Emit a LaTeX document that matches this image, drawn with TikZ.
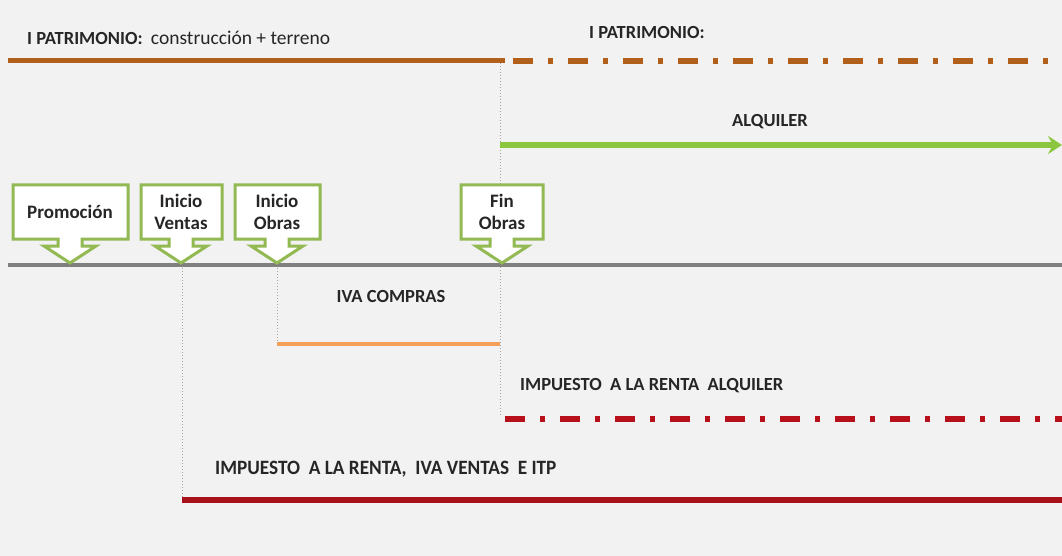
\documentclass[tikz,border=0pt]{standalone}
\usepackage{fontspec}
\setmainfont{Carlito}
\usetikzlibrary{arrows.meta}
\definecolor{bg}{HTML}{F2F2F2}
\definecolor{brownl}{HTML}{B35F1C}
\definecolor{greenl}{HTML}{8CC63F}
\definecolor{greenb}{HTML}{93B952}
\definecolor{grayl}{HTML}{7F7F7F}
\definecolor{orangel}{HTML}{F5A05A}
\definecolor{redd}{HTML}{B8101A}
\definecolor{reds}{HTML}{A8101A}
\definecolor{dotg}{HTML}{A6A6A6}
\newcommand\mycallout[4]{% cx, left, right, name
  \draw[calloutbox] (#2,185) -- (#3,185) -- (#3,239) -- ({#1+12},239) -- ({#1+12},246) -- ({#1+26},246)
    -- (#1,263) -- ({#1-26},246) -- ({#1-12},246) -- ({#1-12},239) -- (#2,239) -- cycle;
  \coordinate (#4) at (#1,212);
}
\begin{document}
\begin{tikzpicture}[x=1pt,y=-1pt,
  lbl/.style={font=\fontsize{18.5}{21}\selectfont\bfseries, inner sep=0pt, text=black!85},
  boxtext/.style={font=\fontsize{19}{22}\selectfont\bfseries, align=center, inner sep=0pt, text=black!85},
  calloutbox/.style={draw=greenb, line width=3pt, fill=white, line join=miter},
  vdot/.style={draw=dotg, line width=1pt, dotted},
  dashdot/.style={line width=5.5pt, dash pattern=on 20pt off 15pt on 5pt off 15pt}]
\fill[bg] (0,0) rectangle (1062,556);
\useasboundingbox (0,0) rectangle (1062,556);

% coordinates
\coordinate (pa) at (8,61);
\coordinate (pb) at (505,61);
\coordinate (pc) at (1062,61);
\coordinate (aa) at (500,145);
\coordinate (ab) at (1062,145);
\coordinate (ta) at (8,265);
\coordinate (tb) at (1062,265);
\coordinate (oa) at (277,344);
\coordinate (ob) at (500,344);
\coordinate (ra) at (505,419);
\coordinate (rb) at (1062,419);
\coordinate (sa) at (182,500);
\coordinate (sb) at (1062,500);
\coordinate (d1) at (500,63);
\coordinate (d1b) at (500,416);
\coordinate (d2) at (182,265);
\coordinate (d3) at (277,265);

% dotted verticals
\draw[vdot] (d1) -- (d1b);
\draw[vdot] (d2) -- (sa);
\draw[vdot] (d3) -- (oa);

% top patrimonio line
\draw[brownl, line width=5pt] (pa) -- (pb);
\draw[brownl, dashdot, dash phase=47pt] (pb) -- (pc);
\node[lbl, anchor=west] (t1) at (27,38) {I PATRIMONIO:\ \ \mdseries\fontsize{19.5}{21}\selectfont construcción + terreno};
\node[lbl, anchor=west] (t2) at (589,33) {I PATRIMONIO:};

% alquiler
\draw[greenl, line width=5.5pt, -{Stealth[length=14pt,width=18pt,inset=5pt]}] (aa) -- (ab);
\node[lbl] (t3) at (770,122) {ALQUILER};

% timeline
\draw[grayl, line width=4pt] (ta) -- (tb);

% callouts
\mycallout{70}{13}{128}{c1}
\node[boxtext] (promo) at (c1) {Promoción};
\mycallout{181}{141}{222}{c2}
\node[boxtext] (ventas) at (c2) {Inicio\\Ventas};
\mycallout{277}{235}{320}{c3}
\node[boxtext] (obras) at (c3) {Inicio\\Obras};
\mycallout{502}{461}{543}{c4}
\node[boxtext] (fin) at (c4) {Fin\\Obras};

% IVA compras
\node[lbl] (t4) at (391,296) {IVA COMPRAS};
\draw[orangel, line width=4.5pt] (oa) -- (ob);

% impuesto alquiler
\node[lbl, anchor=west] (t5) at (520,386) {IMPUESTO\ \ A LA RENTA\ \ ALQUILER};
\draw[redd, dashdot] (ra) -- (rb);

% impuesto ventas
\node[lbl, anchor=west, xscale=1.04, yscale=1.1] (t6) at (215,469) {IMPUESTO\ \ A LA RENTA,\ \ IVA VENTAS\ \ E ITP};
\draw[reds, line width=5.5pt] (sa) -- (sb);
\end{tikzpicture}
\end{document}
